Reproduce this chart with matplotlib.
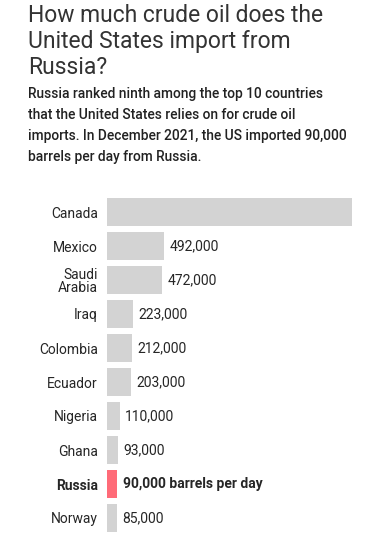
import matplotlib
matplotlib.use('Agg')
import matplotlib.pyplot as plt

plt.rcParams['font.family'] = ['Roboto', 'DejaVu Sans']

countries = ['Canada', 'Mexico', 'Saudi\nArabia', 'Iraq', 'Colombia', 'Ecuador',
             'Nigeria', 'Ghana', 'Russia', 'Norway']
barrels = [2110000, 492000, 472000, 223000, 212000, 203000, 110000, 93000, 90000, 85000]
value_labels = ['', '492,000', '472,000', '223,000', '212,000', '203,000',
                '110,000', '93,000', '90,000 barrels per day', '85,000']
highlight = 'Russia'

W, H = 368, 555
fig = plt.figure(figsize=(W / 100, H / 100), dpi=100)

text_col = '#262626'
fig.text(28 / W, 1 - 4 / H, 'How much crude oil does the\nUnited States import from\nRussia?',
         ha='left', va='top', fontsize=16.5, color='#333333', linespacing=1.17)
fig.text(28 / W, 1 - 87 / H,
         'Russia ranked ninth among the top 10 countries\nthat the United States relies on for crude oil\n'
         'imports. In December 2021, the US imported 90,000\nbarrels per day from Russia.',
         ha='left', va='top', fontsize=9.9, color='#222222', linespacing=1.65, fontweight='medium')

ax = fig.add_axes([107 / W, 1 - 535 / H, (352 - 107) / W, (535 - 195) / H])
colors = ['#ff6b78' if c == highlight else '#d3d3d3' for c in countries]
y = list(range(len(countries)))
ax.barh(y, barrels, height=0.85, color=colors)
ax.set_ylim(len(countries) - 0.5, -0.5)
ax.set_xlim(0, max(barrels))
ax.set_yticks(y)
ax.set_yticklabels(countries, fontsize=10, color=text_col, linespacing=0.95)
for lab in ax.get_yticklabels():
    if lab.get_text() == highlight:
        lab.set_fontweight('bold')
ax.tick_params(axis='y', length=0, pad=6.5)
ax.set_xticks([])
for s in ax.spines.values():
    s.set_visible(False)

for yi, v, lab, c in zip(y, barrels, value_labels, countries):
    if lab:
        ax.annotate(lab, (v, yi), xytext=(4, 0), textcoords='offset points',
                    va='center', ha='left', fontsize=10, color=text_col,
                    fontweight='bold' if c == highlight else 'normal')

fig.savefig('out.png', dpi=100, facecolor='white')
